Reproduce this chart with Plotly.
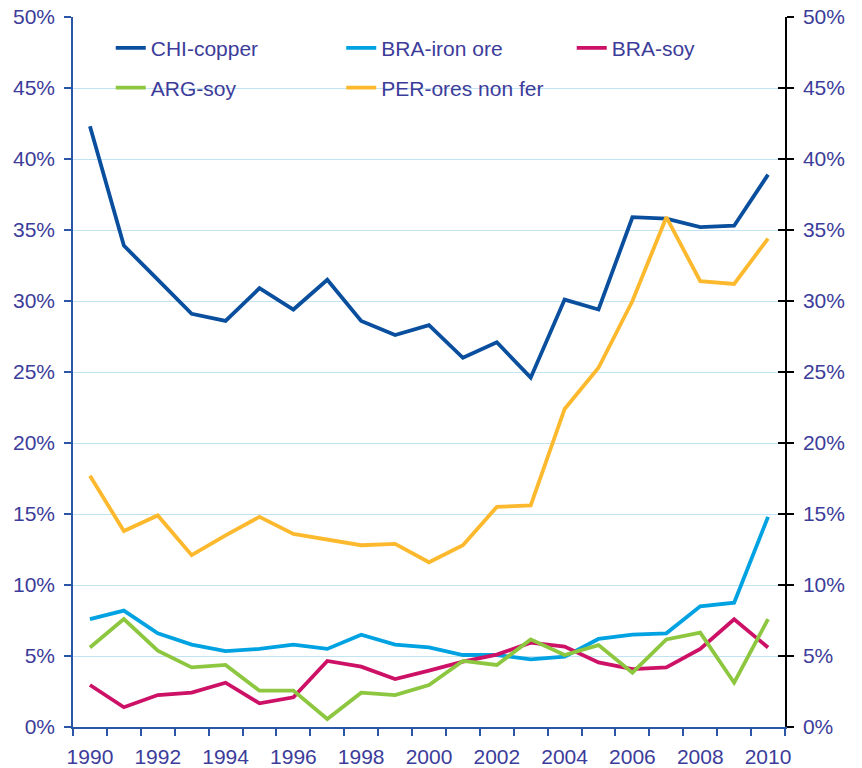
import plotly.graph_objects as go

years = list(range(1990, 2011))
chi_copper = [42.3, 33.9, 31.5, 29.1, 28.6, 30.9, 29.4, 31.5, 28.6, 27.6, 28.3,
              26.0, 27.1, 24.6, 30.1, 29.4, 35.9, 35.8, 35.2, 35.3, 38.9]
bra_iron = [7.6, 8.2, 6.6, 5.8, 5.35, 5.5, 5.8, 5.5, 6.5, 5.8, 5.6,
            5.07, 5.07, 4.77, 4.95, 6.2, 6.5, 6.6, 8.5, 8.75, 14.8]
bra_soy = [2.96, 1.39, 2.25, 2.42, 3.12, 1.67, 2.09, 4.65, 4.25, 3.38, 3.97,
           4.6, 5.1, 5.94, 5.66, 4.55, 4.08, 4.2, 5.5, 7.58, 5.6]
arg_soy = [5.6, 7.6, 5.37, 4.2, 4.37, 2.56, 2.56, 0.56, 2.42, 2.25, 2.96,
           4.65, 4.37, 6.17, 5.07, 5.77, 3.83, 6.17, 6.64, 3.12, 7.6]
per_ores = [17.7, 13.8, 14.9, 12.1, 13.5, 14.8, 13.6, 13.2, 12.8, 12.9, 11.6,
            12.8, 15.5, 15.6, 22.4, 25.3, 30.0, 35.9, 31.4, 31.2, 34.4]

x_labels = list(range(1990, 2011, 2))
x_bounds = [y - 0.5 for y in range(1990, 2012)]
y_ticks = list(range(0, 51, 5))
y_ticktext = [f"{v}%" for v in y_ticks]

TXT = "#3c3c9a"
FONT = "Liberation Sans, Arial, sans-serif"

series = [
    ("CHI-copper", chi_copper, "#0a4f9e", "legend"),
    ("BRA-iron ore", bra_iron, "#00a2e2", "legend"),
    ("BRA-soy", bra_soy, "#cc1166", "legend"),
    ("ARG-soy", arg_soy, "#8dc63f", "legend2"),
    ("PER-ores non fer", per_ores, "#fdb92e", "legend2"),
]

fig = go.Figure()
for name, vals, col, leg in series:
    fig.add_trace(go.Scatter(x=years, y=vals, name=name, mode="lines",
                             line=dict(color=col, width=3.8), legend=leg))

# invisible copies so that the right-hand (mirrored) axes are drawn
for ax in ("y2", "y3"):
    fig.add_trace(go.Scatter(x=years, y=chi_copper, yaxis=ax, mode="lines",
                             line=dict(color="rgba(0,0,0,0)", width=0),
                             showlegend=False, hoverinfo="skip"))

legend_common = dict(orientation="h", xanchor="left", yanchor="middle",
                     bgcolor="rgba(0,0,0,0)", font=dict(family=FONT, size=21, color=TXT),
                     entrywidth=185.5, entrywidthmode="pixels", itemclick=False)

fig.update_layout(
    width=862, height=768,
    margin=dict(l=73, r=77, t=17, b=41),
    plot_bgcolor="white", paper_bgcolor="white",
    font=dict(family=FONT, size=21, color=TXT),
    showlegend=True,
    legend=dict(x=0.053, y=0.956, **legend_common),
    legend2=dict(x=0.053, y=0.900, **legend_common),
    xaxis=dict(range=[1989.5, 2010.5], tickvals=x_labels, ticktext=[str(v) for v in x_labels],
               ticks="outside", ticklen=0, showgrid=False, zeroline=False,
               showline=True, linecolor="#2b56a5", linewidth=1.5,
               ticklabelstandoff=10, automargin=False,
               minor=dict(tickvals=x_bounds, ticks="outside", ticklen=7,
                          tickcolor="#2b56a5", tickwidth=1.5, showgrid=False)),
    yaxis=dict(range=[0, 50], tickvals=y_ticks, ticktext=y_ticktext,
               ticks="outside", ticklen=7, tickcolor="#2b56a5", tickwidth=1.5,
               showline=True, linecolor="#2b56a5", linewidth=1.5,
               showgrid=True, gridcolor="#c2e4f2", gridwidth=1, zeroline=False,
               ticklabelstandoff=5, automargin=False, ticklabeloverflow="allow"),
    yaxis2=dict(range=[0, 50], tickvals=y_ticks, ticktext=y_ticktext, overlaying="y",
                side="right", anchor="x", ticks="outside", ticklen=7, tickcolor="black",
                tickwidth=1.5, showline=True, linecolor="black", linewidth=1.5,
                showgrid=False, zeroline=False, ticklabelstandoff=5, automargin=False,
                ticklabeloverflow="allow"),
    yaxis3=dict(range=[0, 50], tickvals=y_ticks, overlaying="y", side="right",
                anchor="free", position=1, ticks="inside", ticklen=7, tickcolor="black",
                tickwidth=1.5, showline=False, showgrid=False, zeroline=False,
                showticklabels=False, automargin=False),
)

fig.write_html("out.html", config={"displayModeBar": False},
               post_script="document.body.style.margin='0';document.body.style.overflow='hidden';")
